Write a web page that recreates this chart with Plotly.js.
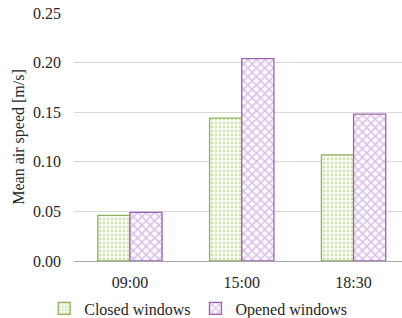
<!DOCTYPE html>
<html>
<head>
<meta charset="utf-8">
<script src="https://cdn.plot.ly/plotly-3.0.1.min.js"></script>
<style>html,body{margin:0;padding:0;background:#fff;}#chart{width:402px;height:318px;}</style>
</head>
<body>
<div id="chart"></div>
<script>
const categories = ["09:00", "15:00", "18:30"];
const closedWindows = [0.046, 0.144, 0.107];
const openedWindows = [0.049, 0.204, 0.148];
const yTicks = [0, 0.05, 0.10, 0.15, 0.20, 0.25];
const yTickLabels = ["0.00", "0.05", "0.10", "0.15", "0.20", "0.25"];

const font = {family: "Liberation Serif", size: 16, color: "#262626"};

const traces = [
  {
    type: "bar", name: "Closed windows", x: categories, y: closedWindows,
    marker: {
      color: "#ffffff",
      line: {color: "#8fb25c", width: 1.3},
      pattern: {shape: ".", fgcolor: "#cfe5ab", bgcolor: "#ffffff", size: 4, solidity: 0.4}
    }
  },
  {
    type: "bar", name: "Opened windows", x: categories, y: openedWindows,
    marker: {
      color: "#ffffff",
      line: {color: "#9a62b2", width: 1.3},
      pattern: {shape: "x", fgcolor: "#dcc0e8", bgcolor: "#ffffff", size: 6, solidity: 0.45}
    }
  }
];

const layout = {
  width: 402, height: 318,
  margin: {l: 73.5, r: 0, t: 13, b: 57, autoexpand: false},
  paper_bgcolor: "#fff", plot_bgcolor: "#fff",
  font: font,
  barmode: "group", bargap: 0.425, bargroupgap: 0,
  showlegend: true,
  legend: {orientation: "h", xref: "container", x: 0.11, xanchor: "left",
           yref: "container", y: 0.03, yanchor: "middle",
           font: font, bgcolor: "rgba(0,0,0,0)"},
  xaxis: {
    type: "category", range: [-0.5, 2.433], automargin: false,
    showline: true, linecolor: "#a6a6a6", linewidth: 1,
    showgrid: false, ticks: "outside", ticklen: 7, tickcolor: "rgba(0,0,0,0)",
    tickfont: font, fixedrange: true
  },
  yaxis: {
    range: [0, 0.25], tickvals: yTicks, ticktext: yTickLabels, automargin: false,
    showgrid: true, gridcolor: "#d9d9d9", gridwidth: 1,
    zeroline: false, showline: false, ticks: "", ticklabelstandoff: 12,
    tickfont: font,
    title: {text: "Mean air speed [m/s]", font: {family: "Liberation Serif", size: 16, color: "#262626"}, standoff: 4}
  }
};

Plotly.newPlot("chart", traces, layout, {displayModeBar: false, staticPlot: true});
</script>
</body>
</html>
